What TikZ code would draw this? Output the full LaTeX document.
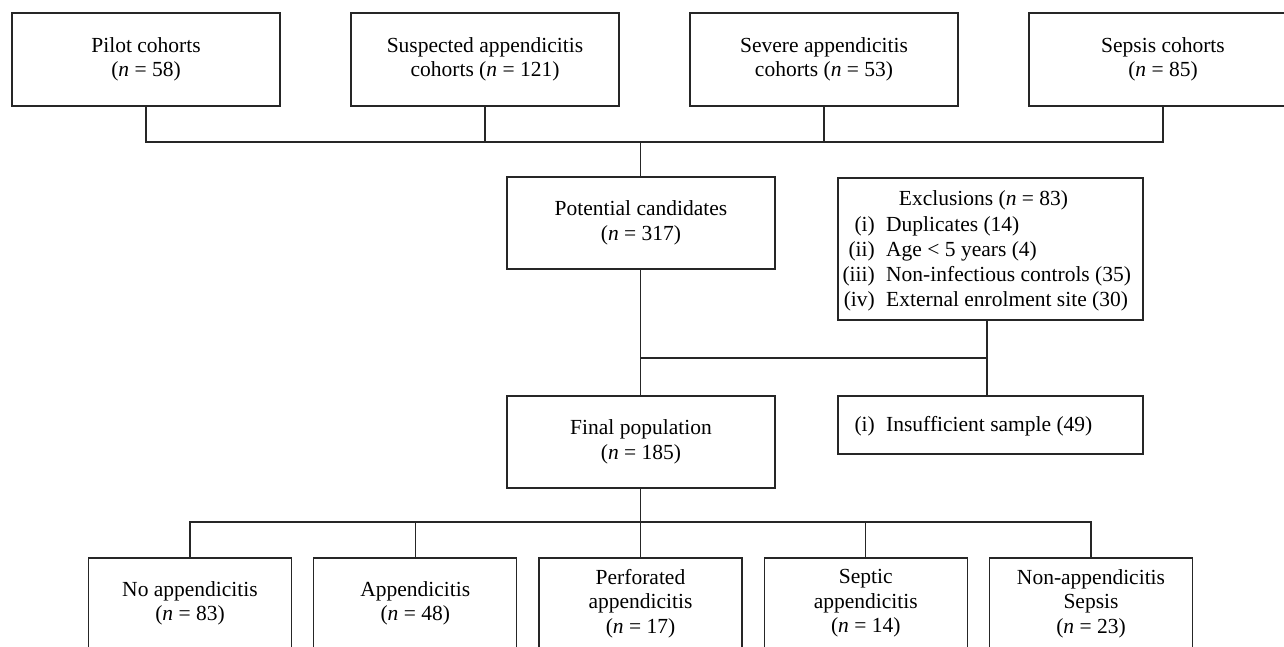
\documentclass[tikz,border=0pt]{standalone}
\usepackage{fontspec}
\setmainfont{Liberation Serif}
\begin{document}
\begin{tikzpicture}[x=1pt,y=-1pt,
  ln/.style={line width=1.2pt, draw=black!85},
  box/.style={ln, rectangle, inner sep=0pt, align=center,
    font=\fontsize{21.5}{24.5}\selectfont},
  topbox/.style={box, minimum width=268pt, minimum height=93pt},
  midbox/.style={box, minimum width=268pt, minimum height=92pt},
  botbox/.style={box, minimum width=203pt, minimum height=91pt},
  txt/.style={inner sep=0pt, font=\fontsize{21.5}{24.5}\selectfont}]
\path[use as bounding box] (0,0) rectangle (1284,647);
\clip (0,0) rectangle (1284,647);
\fill[white] (0,0) rectangle (1284,647);

% top row
\node[topbox] (p1) at (146,59.5) {Pilot cohorts\\(\textit{n} = 58)};
\node[topbox] (p2) at (485,59.5) {Suspected appendicitis\\cohorts (\textit{n} = 121)};
\node[topbox] (p3) at (824,59.5) {Severe appendicitis\\cohorts (\textit{n} = 53)};
\node[topbox] (p4) at (1163,59.5) {Sepsis cohorts\\(\textit{n} = 85)};

% middle
\node[midbox] (pc) at (641,223) {Potential candidates\\(\textit{n} = 317)};
\node[midbox] (fp) at (641,442) {Final population\\(\textit{n} = 185)};

\node[ln, rectangle, minimum width=305pt, minimum height=142pt, inner sep=0pt] (ex) at (990.5,249) {};
\node[txt, anchor=base] (ex0) at (983.5,205) {Exclusions (\textit{n} = 83)};
\node[txt, anchor=base east] (exl1) at (875,231) {(i)};
\node[txt, anchor=base west] (ext1) at (886,231) {Duplicates (14)};
\node[txt, anchor=base east] (exl2) at (875,256) {(ii)};
\node[txt, anchor=base west] (ext2) at (886,256) {Age < 5 years (4)};
\node[txt, anchor=base east] (exl3) at (875,281) {(iii)};
\node[txt, anchor=base west] (ext3) at (886,281) {Non-infectious controls (35)};
\node[txt, anchor=base east] (exl4) at (875,306) {(iv)};
\node[txt, anchor=base west] (ext4) at (886,306) {External enrolment site (30)};

\node[ln, rectangle, minimum width=305pt, minimum height=58pt, inner sep=0pt] (ins) at (990.5,425) {};
\node[txt, anchor=base east] (insl) at (875,431) {(i)};
\node[txt, anchor=base west] (inst) at (886,431) {Insufficient sample (49)};

% bottom row
\node[botbox] (b1) at (190,603.5) {No appendicitis\\(\textit{n} = 83)};
\node[botbox] (b2) at (415.25,603.5) {Appendicitis\\(\textit{n} = 48)};
\node[botbox] (b3) at (640.5,603.5) {Perforated\\appendicitis\\(\textit{n} = 17)};
\node[botbox] (b4) at (865.75,603.5) {Septic\\appendicitis\\(\textit{n} = 14)};
\node[botbox] (b5) at (1091,603.5) {Non-appendicitis\\Sepsis\\(\textit{n} = 23)};

% connectors
\coordinate (tj) at (640.5,142);
\coordinate (mj) at (640.5,358);
\coordinate (bj) at (640.5,522);
\coordinate (xj) at (987,358);

\draw[ln] (p1.south) |- (tj);
\draw[ln] (p4.south) |- (tj);
\draw[ln] (p2.south) -- (p2.south |- tj);
\draw[ln] (p3.south) -- (p3.south |- tj);
\draw[ln] (tj) -- (tj |- pc.north);

\draw[ln] (pc.south -| tj) -- (fp.north -| tj);
\draw[ln] (xj |- ex.south) -- (xj) -- (mj);
\draw[ln] (xj) -- (xj |- ins.north);

\draw[ln] (fp.south -| bj) -- (bj);
\draw[ln] (b1.north) |- (bj);
\draw[ln] (b5.north) |- (bj);
\draw[ln] (b2.north) -- (b2.north |- bj);
\draw[ln] (b3.north) -- (b3.north |- bj);
\draw[ln] (b4.north) -- (b4.north |- bj);
\end{tikzpicture}
\end{document}
